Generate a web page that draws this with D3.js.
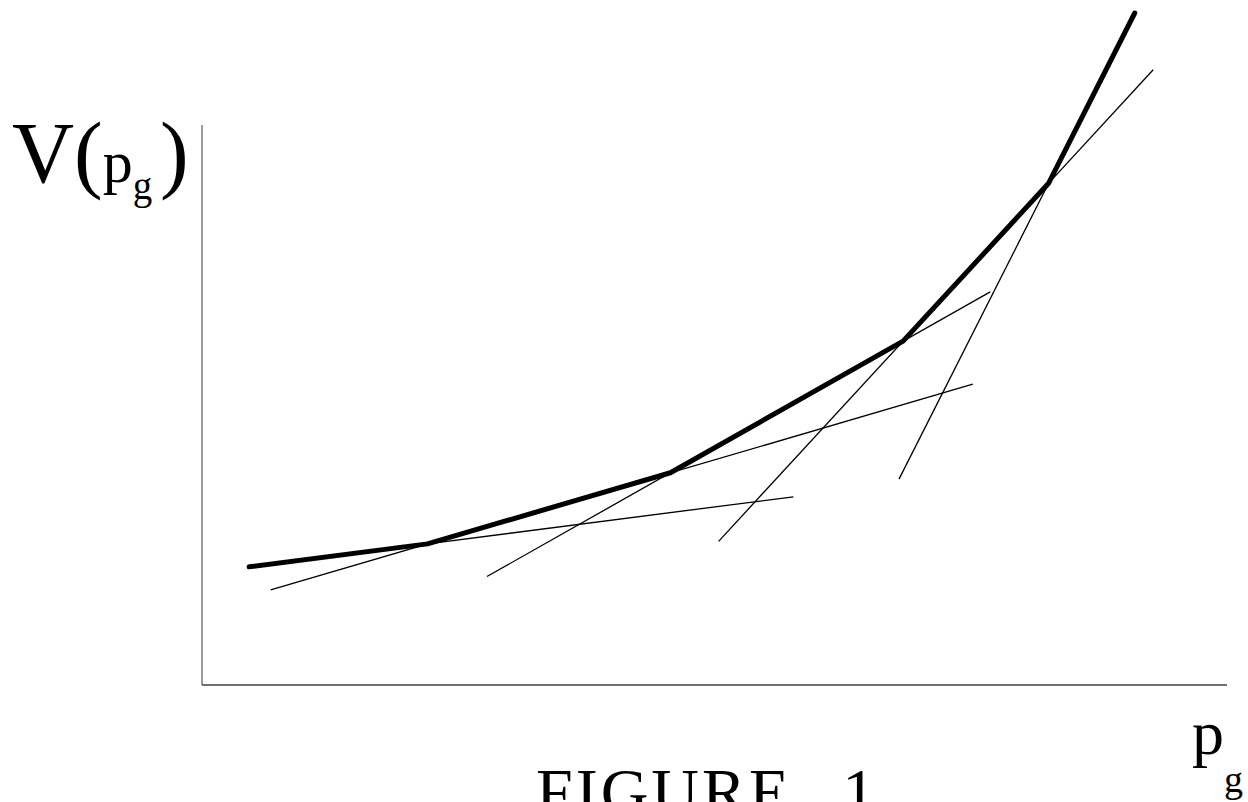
<!DOCTYPE html>
<html lang="en">
    <head>
        <meta charset="utf-8">
        <title>Figure 1</title>
        <script src="https://d3js.org/d3.v7.min.js"></script>
        <style>
          body{ margin:0; background:#fff; }
          text{ font-family:"Liberation Serif","Times New Roman",serif; fill:#000; }
          .curve{ fill:none; stroke:#000; stroke-width:5; stroke-linecap:round; stroke-linejoin:round; }
          .tangent{ fill:none; stroke:#000; stroke-width:1.3; }
        </style>
    </head>
    <body>
        <script type="text/javascript">
            // window size
            var w = 1248, h = 802;

            // kinks of the piecewise linear V(pg), in data units
            var kinkX = [0.46, 2.2, 4.57, 6.84, 8.26, 9.1];
            var kinkV = [2.11, 2.52, 3.79, 6.14, 8.96, 12.0];

            // thin lines: which segment they extend, and from / to x
            var tanSeg  = [0,    1,    2,    3,    4];
            var tanFrom = [2.2,  0.67, 2.78, 5.04, 6.8];
            var tanTo   = [5.77, 7.52, 7.69, 9.28, 8.26];

            var svg = d3.select("body")
                        .append("svg")
                        .attr("width", w)
                        .attr("height", h);

            // scales
            var x = d3.scaleLinear().domain([0, 10]).range([202, 1227]);
            var y = d3.scaleLinear().domain([0, 10]).range([685, 125]);

            // axes (plain lines, no ticks)
            svg.append("line")
               .attr("x1", x(0)).attr("x2", x(0))
               .attr("y1", y(0)).attr("y2", y(10))
               .style("stroke", "#808080").style("stroke-width", 1.6);
            svg.append("line")
               .attr("x1", x(0)).attr("x2", x(10))
               .attr("y1", y(0)).attr("y2", y(0))
               .style("stroke", "#404040").style("stroke-width", 1.6);

            // tangent lines = extensions of each segment
            var tangents = tanSeg.map(function(s, i){
                var k = (kinkV[s+1] - kinkV[s]) / (kinkX[s+1] - kinkX[s]);
                var f = function(v){ return kinkV[s] + k * (v - kinkX[s]); };
                return [[tanFrom[i], f(tanFrom[i])], [tanTo[i], f(tanTo[i])]];
            });

            var line = d3.line()
                         .x(function(d){ return x(d[0]); })
                         .y(function(d){ return y(d[1]); });

            svg.selectAll(".tangent")
               .data(tangents)
               .enter()
               .append("path")
               .attr("class", "tangent")
               .attr("d", line);

            // the thick curve
            svg.append("path")
               .datum(kinkX.map(function(v, i){ return [v, kinkV[i]]; }))
               .attr("class", "curve")
               .attr("d", line);

            // y label V(pg)
            var yl = svg.append("text").attr("x", 12).attr("y", 182);
            yl.append("tspan").style("font-size", "86px").text("V(");
            yl.append("tspan").style("font-size", "60px").text("p");
            yl.append("tspan").style("font-size", "39px").attr("dy", 17).text("g");
            yl.append("tspan").style("font-size", "86px").attr("x", 160).attr("dy", -17).text(")");

            // x label pg
            var xl = svg.append("text").attr("x", 1192).attr("y", 754);
            xl.append("tspan").style("font-size", "64px").text("p");
            xl.append("tspan").style("font-size", "38px").attr("dy", 38).text("g");

            // caption
            var cap = svg.append("text")
                         .attr("x", 536).attr("y", 814)
                         .style("font-size", "66px");
            cap.append("tspan").style("letter-spacing", "3px").text("FIGURE");
            cap.append("tspan").attr("dx", 50).text("1");
        </script>
    </body>
</html>
